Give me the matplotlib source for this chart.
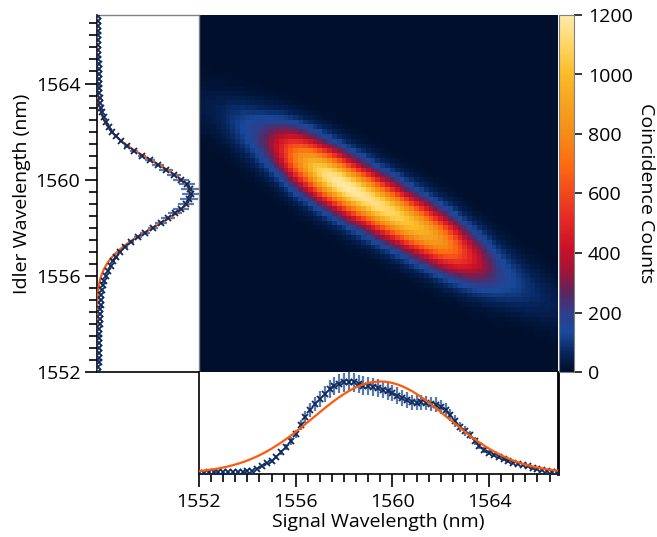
import numpy as np
import matplotlib
matplotlib.use('Agg')
import matplotlib.pyplot as plt
from matplotlib.colors import LinearSegmentedColormap
from matplotlib.ticker import MultipleLocator

plt.rcParams['font.family'] = ['Open Sans', 'DejaVu Sans']
plt.rcParams['font.size'] = 14

# wavelength grid (nm), 0.2 nm bins
wl = np.round(np.arange(1552.0, 1566.81, 0.2), 1)

# signal marginal (bottom), arbitrary units
signal_counts = [1.5, 1.5, 1.6, 1.6, 1.7, 1.8, 1.9, 2.0, 2.2, 2.5,
                 2.8, 3.5, 5.0, 8.0, 11, 13, 17, 22, 27, 33,
                 40, 49, 57, 64, 70, 75, 80, 85, 88, 90.5,
                 92, 92.5, 92, 90, 88.5, 88, 87, 86, 84.5, 83,
                 81, 78.5, 76, 74, 72, 71.5, 72, 71, 70, 69.5,
                 67, 64, 59, 53, 47, 43, 39, 33, 28, 24,
                 21.5, 19, 17, 15, 13, 11.5, 10, 9, 8, 6.5,
                 5.2, 4, 3, 2.5, 2.2]

# idler marginal (left), arbitrary units
idler_counts = [1.3, 1.4, 1.5, 1.6, 1.7, 1.8, 1.9, 2.0, 2.2, 2.4,
                2.6, 2.8, 3.0, 3.3, 3.6, 3.9, 4.3, 5.0, 6.0, 7.2,
                9.0, 11, 13.5, 16, 19, 23, 28, 34, 41, 48,
                56, 64, 71, 78, 84, 89, 92, 93.5, 93, 90,
                84, 77, 69, 61, 53, 45, 37, 30, 24, 19,
                15, 11.5, 8.5, 6.5, 5, 3.8, 3, 2.5, 2.2, 2.0,
                1.8, 1.7, 1.6, 1.5, 1.5, 1.4, 1.4, 1.3, 1.3, 1.3,
                1.2, 1.2, 1.2, 1.2, 1.2]
rel_err_signal = 0.10
rel_err_idler = 0.09

# gaussian fits (center, sigma, amplitude, offset)
signal_fit = (1559.5, 2.78, 92.0, 0.5)
idler_fit = (1559.38, 1.36, 93.5, 0.0)

# joint spectrum: peak counts of each signal column along the ridge
ridge_peak = [30, 35, 40, 45, 55, 65, 80, 95, 110, 130,
              150, 175, 205, 240, 280, 340, 410, 490, 580, 670,
              760, 840, 910, 980, 1040, 1090, 1130, 1160, 1180, 1190,
              1195, 1195, 1190, 1180, 1170, 1160, 1150, 1140, 1125, 1110,
              1095, 1080, 1060, 1040, 1020, 995, 970, 945, 915, 885,
              850, 805, 750, 690, 625, 560, 500, 440, 385, 330,
              280, 240, 205, 175, 150, 130, 115, 100, 90, 80,
              72, 65, 58, 52, 47]
ridge_center = (1558.3, 1559.6)   # (signal, idler) nm
ridge_slope = -0.57
ridge_width = 0.8                  # idler sigma per column, nm

cmap = LinearSegmentedColormap.from_list('jsi', [
    (0.0, '#000f2b'), (0.05, '#06245a'), (0.11, '#1a4a9c'), (0.16, '#2d3f8c'),
    (0.22, '#5a2760'), (0.28, '#a01438'), (0.35, '#cc1228'), (0.43, '#e52a26'),
    (0.52, '#f4501a'), (0.58, '#ff6a10'), (0.68, '#f39019'), (0.77, '#f6a722'),
    (0.84, '#fbbd28'), (0.92, '#ffd766'), (1.0, '#ffeaa8')])

S, I = np.meshgrid(wl, wl)
peak = np.array(ridge_peak)[None, :]
i0 = ridge_center[1] + ridge_slope * (S - ridge_center[0])
jsi = peak * np.exp(-(I - i0) ** 2 / (2 * ridge_width ** 2))

lo, hi = 1552.0, 1566.85
W, H = 657, 537
fig = plt.figure(figsize=(W / 100, H / 100), dpi=100)


def box(x0, y0, x1, y1):
    return [x0 / W, 1 - y1 / H, (x1 - x0) / W, (y1 - y0) / H]


ax_map = fig.add_axes(box(199, 15, 558, 372))
ax_left = fig.add_axes(box(97, 15, 199, 372))
ax_bot = fig.add_axes(box(199, 372, 558, 474))
ax_cb = fig.add_axes(box(559, 15, 574, 372))

im = ax_map.imshow(jsi, origin='lower', cmap=cmap, vmin=0, vmax=1200, aspect='auto',
                   interpolation='nearest', extent=[wl[0] - 0.1, wl[-1] + 0.1, wl[0] - 0.1, wl[-1] + 0.1])
ax_map.set_xlim(lo, hi)
ax_map.set_ylim(lo, hi)
ax_map.set_xticks([])
ax_map.set_yticks([])
for sp in ax_map.spines.values():
    sp.set_visible(False)

cb = fig.colorbar(im, cax=ax_cb)
cb.set_ticks([0, 200, 400, 600, 800, 1000, 1200])
cb.outline.set_edgecolor('#808080')
cb.outline.set_linewidth(0.8)
ax_cb.tick_params(length=6, width=1.1, pad=4)
fig.text(646 / W, 1 - 193 / H, 'Coincidence Counts', rotation=270, ha='center', va='center')

navy = '#0d2a5e'
ebar = '#5a78b0'
orange = '#ff5a0a'

# bottom marginal
sig = np.array(signal_counts)
ax_bot.errorbar(wl, sig, yerr=rel_err_signal * sig + 0.3, fmt='none', ecolor=ebar, elinewidth=1.6, zorder=2)
ax_bot.plot(wl, sig, 'x', color=navy, ms=5, mew=1.3, zorder=3)
c, s, a, o = signal_fit
xf = np.linspace(lo, hi, 400)
ax_bot.plot(xf, a * np.exp(-(xf - c) ** 2 / (2 * s ** 2)) + o, color=orange, lw=1.6, zorder=4)
ax_bot.set_xlim(lo, hi)
ax_bot.set_ylim(0, 102)
ax_bot.set_yticks([])
ax_bot.xaxis.set_major_locator(MultipleLocator(4))
ax_bot.xaxis.set_minor_locator(MultipleLocator(0.5))
ax_bot.tick_params(axis='x', which='major', length=9, width=1.2, pad=5)
ax_bot.tick_params(axis='x', which='minor', length=6, width=1.2)
ax_bot.spines['top'].set_visible(False)
ax_bot.spines['right'].set_linewidth(2)
ax_bot.spines['left'].set_linewidth(1.2)
ax_bot.spines['bottom'].set_linewidth(1.2)
ax_bot.set_xlabel('Signal Wavelength (nm)', labelpad=1)

# left marginal
idl = np.array(idler_counts)
ax_left.errorbar(idl, wl, xerr=rel_err_idler * idl + 0.3, fmt='none', ecolor=ebar, elinewidth=1.6, zorder=2)
c, s, a, o = idler_fit
yf = np.linspace(lo, hi, 400)
ax_left.plot(a * np.exp(-(yf - c) ** 2 / (2 * s ** 2)) + o, yf, color=orange, lw=1.6, zorder=3)
ax_left.plot(idl, wl, 'x', color=navy, ms=5, mew=1.3, zorder=4)
ax_left.set_ylim(lo, hi)
ax_left.set_xlim(0, 102)
ax_left.set_xticks([])
ax_left.yaxis.set_major_locator(MultipleLocator(4))
ax_left.yaxis.set_minor_locator(MultipleLocator(0.5))
ax_left.tick_params(axis='y', which='major', length=9, width=1.2, pad=3)
ax_left.tick_params(axis='y', which='minor', length=6, width=1.2)
ax_left.spines['top'].set_color('#808080')
ax_left.spines['top'].set_linewidth(1)
ax_left.spines['right'].set_color('#808080')
ax_left.spines['right'].set_linewidth(1)
ax_left.spines['left'].set_linewidth(1.2)
ax_left.spines['bottom'].set_linewidth(1.2)
ax_left.set_ylabel('Idler Wavelength (nm)', labelpad=3)

fig.savefig('out.png', dpi=100)
